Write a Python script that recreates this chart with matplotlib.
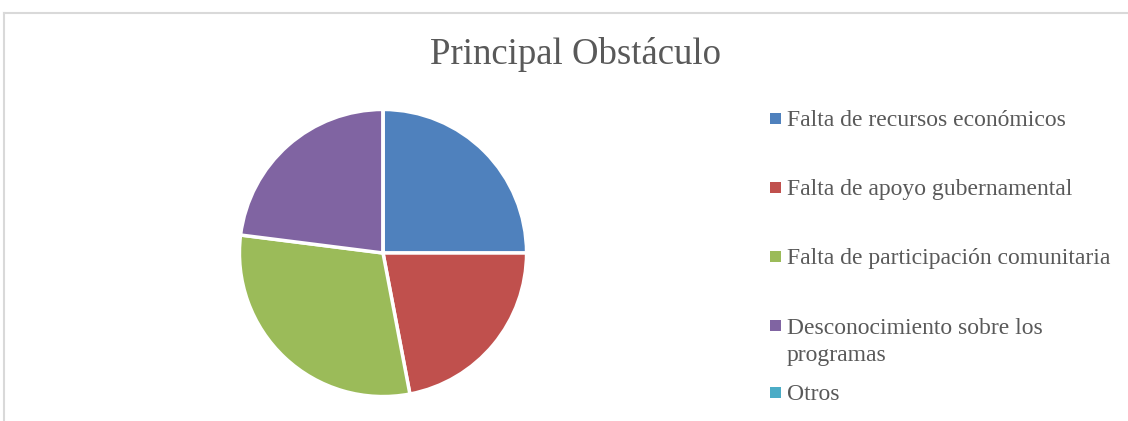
import matplotlib.pyplot as plt
from matplotlib.lines import Line2D
from matplotlib.patches import Rectangle

categories = [
    'Falta de recursos económicos',
    'Falta de apoyo gubernamental',
    'Falta de participación comunitaria',
    'Desconocimiento sobre los\nprogramas',
    'Otros',
]
values = [25, 22, 30, 23, 0]
colors = ['#4f81bd', '#c0504d', '#9bbb59', '#8064a2', '#4bacc6']

plt.rcParams['font.family'] = ['Liberation Serif', 'DejaVu Serif']
W, H = 1128, 421
fig = plt.figure(figsize=(W / 100, H / 100), dpi=100)

# chart frame (light gray)
fig.add_artist(Line2D([4 / W, 1], [1 - 13 / H, 1 - 13 / H], color='#d9d9d9', lw=1.5))
fig.add_artist(Line2D([4 / W, 4 / W], [0, 1 - 13 / H], color='#d9d9d9', lw=1.5))

fig.text(575 / W, 1 - 55 / H, 'Principal Obstáculo', ha='center', va='center',
         fontsize=26.5, color='#595959')

ax = fig.add_axes([238 / W, 23 / H, 290 / W, 290 / H])
ax.pie(values, colors=colors, startangle=90, counterclock=False,
       wedgeprops=dict(edgecolor='white', linewidth=2.5))
ax.set_xlim(-1.01, 1.01)
ax.set_ylim(-1.01, 1.01)
ax.set_aspect('equal')
ax.axis('off')

# legend drawn by hand, Excel style
legend_y = [118, 187, 256, 325, 392]
for lab, col, y in zip(categories, colors, legend_y):
    fig.add_artist(Rectangle((770 / W, 1 - (y + 5.5) / H), 11 / W, 11 / H,
                             transform=fig.transFigure, facecolor=col, edgecolor='none'))
    base = y + 8 + 28 * lab.count('\n')
    fig.text(787 / W, 1 - base / H, lab, ha='left', va='baseline',
             fontsize=17, color='#595959', linespacing=1.35)

fig.savefig('out.png', dpi=100)
